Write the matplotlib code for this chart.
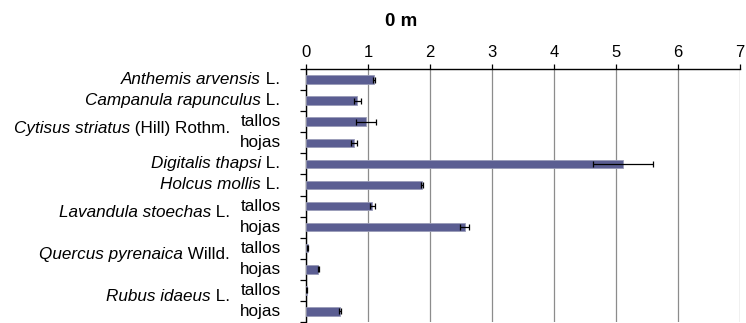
import matplotlib
matplotlib.use("Agg")
import matplotlib.pyplot as plt
import numpy as np

plt.rcParams['font.family'] = ['Liberation Sans', 'DejaVu Sans']

# Species (italic part), authority (upright part) and plant part per row group
species = ["Anthemis arvensis", "Campanula rapunculus", "Cytisus striatus", "Digitalis thapsi",
           "Holcus mollis", "Lavandula stoechas", "Quercus pyrenaica", "Rubus idaeus"]
authors = ["L.", "L.", "(Hill) Rothm.", "L.", "L.", "L.", "Willd.", "L."]
organs = [[""], [""], ["tallos", "hojas"], [""], [""], ["tallos", "hojas"],
          ["tallos", "hojas"], ["tallos", "hojas"]]

# One value per bar, top to bottom
values = [1.10, 0.83, 0.97, 0.77, 5.11, 1.87, 1.07, 2.56, 0.03, 0.20, 0.01, 0.55]
errors = [0.02, 0.05, 0.16, 0.05, 0.48, 0.02, 0.04, 0.075, 0.01, 0.01, 0.01, 0.02]

x_ticks = [0, 1, 2, 3, 4, 5, 6, 7]
title = "0 m"

W, H = 746, 323
fig = plt.figure(figsize=(W / 100, H / 100), dpi=100)
ax = fig.add_axes([306 / W, 1 - 322 / H, (740 - 306) / W, (322 - 69) / H])

n = len(values)
ypos = np.arange(n)
ax.barh(ypos, values, height=0.4, color='#5b5e92', edgecolor='#9a9cb8', linewidth=0.6, zorder=3)
ax.errorbar(values, ypos, xerr=errors, fmt='none', ecolor='black', elinewidth=0.9,
            capsize=2.5, capthick=0.9, zorder=4)

ax.set_xlim(0, 7)
ax.set_ylim(n - 0.5, -0.5)
ax.set_xticks(x_ticks)
ax.xaxis.tick_top()
ax.tick_params(axis='x', direction='out', length=3.5, width=0.9, pad=2.8, labelsize=12)
ax.grid(axis='x', color='#8c8c8c', linewidth=0.9, zorder=0)

# category boundary ticks on the left
ax.set_yticks(np.arange(-0.5, n, 1.0))
ax.set_yticklabels([])
ax.tick_params(axis='y', direction='out', length=4, width=0.9)

for side in ['right', 'bottom']:
    ax.spines[side].set_visible(False)
ax.spines['top'].set_linewidth(1.0)
ax.spines['left'].set_linewidth(1.0)

fig.text(401 / W, 1 - 21 / H, title, ha='center', va='center', fontsize=13.5, fontweight='bold')

fig.canvas.draw()
renderer = fig.canvas.get_renderer()
fs = 12.3


def two_part_label(y, right_px, italic, upright):
    # upright authority right-aligned, italic name placed just left of it
    t = ax.annotate(" " + upright, xy=(0, y), xycoords=('axes fraction', 'data'),
                    xytext=(-right_px, 0), textcoords='offset pixels',
                    ha='right', va='center', fontsize=fs)
    w = t.get_window_extent(renderer).width
    ax.annotate(italic, xy=(0, y), xycoords=('axes fraction', 'data'),
                xytext=(-right_px - w, 0), textcoords='offset pixels',
                ha='right', va='center', fontsize=fs, style='italic')


row = 0
for name, auth, parts in zip(species, authors, organs):
    if len(parts) == 1:
        two_part_label(row, 26, name, auth)
        row += 1
    else:
        two_part_label(row + 0.3, 76, name, auth)
        for k, p in enumerate(parts):
            ax.annotate(p, xy=(0, row + k), xycoords=('axes fraction', 'data'),
                        xytext=(-25, 0), textcoords='offset pixels',
                        ha='right', va='center', fontsize=fs)
        row += len(parts)

fig.savefig("out.png", dpi=100)
